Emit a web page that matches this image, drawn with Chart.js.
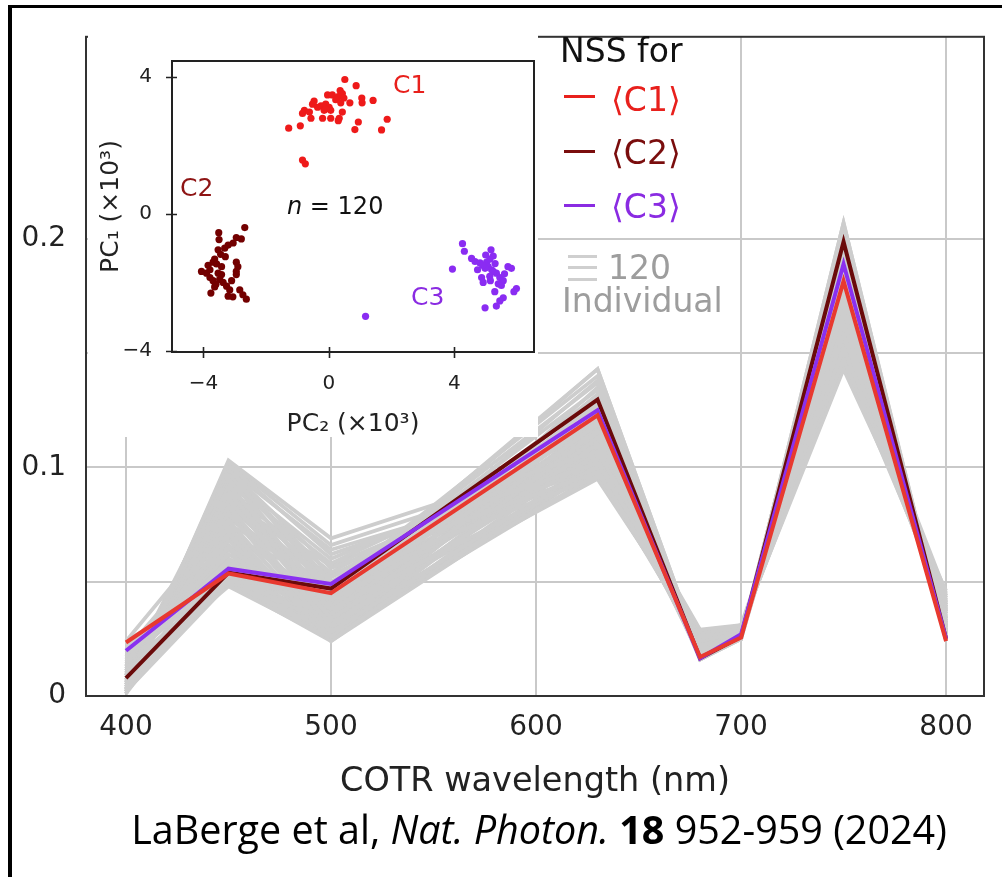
<!DOCTYPE html>
<html>
<head>
<meta charset="utf-8">
<script src="https://cdn.jsdelivr.net/npm/chart.js@4.4.1/dist/chart.umd.min.js"></script>
<style>
  html, body { margin: 0; padding: 0; background: #fff; }
  body { width: 1002px; height: 877px; position: relative; overflow: hidden;
         font-family: "DejaVu Sans", sans-serif; }
  #main { position: absolute; left: 0; top: 0; }
  #frame { position: absolute; left: 8px; top: 5px; right: 0; bottom: 0;
           border-left: 4px solid #000; border-top: 3px solid #000; pointer-events: none; }
  #insetWrap { position: absolute; left: 88px; top: 29px; width: 450px; height: 408px; background: #fff; }
  #inset { position: absolute; left: 0; top: 0; }
  .txt { position: absolute; white-space: nowrap; line-height: 1; }
  .lg { font-size: 33px; }
  .dash { position: absolute; height: 3px; width: 31px; }
  .bar { position: absolute; height: 3px; width: 29px; background: #cfcfcf; }
  .ann { font-size: 25px; }
  #cite { position: absolute; left: 77px; width: 924px; top: 810px; text-align: center;
          font-family: "Open Sans", sans-serif; font-size: 39.5px;
          line-height: 1; color: #000; }
</style>
</head>
<body>
<canvas id="main" width="1002" height="877"></canvas>

<div id="insetWrap">
  <canvas id="inset" width="450" height="408"></canvas>
</div>

<!-- cluster annotations inside the PCA inset -->
<div class="txt ann" style="left:393px; top:72px; color:#e8201c;">C1</div>
<div class="txt ann" style="left:180px; top:175px; color:#8e1414;">C2</div>
<div class="txt ann" style="left:287px; top:194px; color:#111; font-size:24px;"><i>n</i> = 120</div>
<div class="txt ann" style="left:411px; top:284px; color:#8a2be2;">C3</div>

<!-- legend -->
<div class="txt lg" style="left:560px; top:34px; color:#111;">NSS for</div>
<div class="dash" style="left:564px; top:95px; background:#e8201c;"></div>
<div class="txt lg" style="left:611px; top:83px; color:#e8201c;">⟨C1⟩</div>
<div class="dash" style="left:564px; top:150px; background:#7a0d0d;"></div>
<div class="txt lg" style="left:611px; top:136px; color:#7a0d0d;">⟨C2⟩</div>
<div class="dash" style="left:564px; top:204px; background:#8a2be2;"></div>
<div class="txt lg" style="left:611px; top:190px; color:#8a2be2;">⟨C3⟩</div>
<div class="bar" style="left:568px; top:255px;"></div>
<div class="bar" style="left:568px; top:266px;"></div>
<div class="bar" style="left:568px; top:278px;"></div>
<div class="txt lg" style="left:608px; top:251px; color:#9d9d9d;">120</div>
<div class="txt lg" style="left:562px; top:284px; color:#9d9d9d;">Individual</div>

<div id="cite">LaBerge et al, <i>Nat. Photon.</i> <b>18</b> 952-959 (2024)</div>

<div id="frame"></div>

<script>
// ---- spectra: normalized spectral signal (NSS) vs COTR wavelength ----
const wavelengths = [400, 450, 500, 630, 680, 700, 750, 800];

const meanC1 = [0.0234, 0.0536, 0.0450, 0.1228, 0.0170, 0.0256, 0.1815, 0.0240];
const meanC2 = [0.0078, 0.0540, 0.0470, 0.1297, 0.0165, 0.0260, 0.1987, 0.0250];
const meanC3 = [0.0198, 0.0557, 0.0490, 0.1250, 0.0165, 0.0270, 0.1890, 0.0250];

// individual shots (grey band)
const individual = [
  [0.001, 0.103, 0.069, 0.107, 0.029, 0.031, 0.143, 0.046],
  [0.003, 0.101, 0.062, 0.102, 0.028, 0.030, 0.147, 0.044],
  [0.002, 0.099, 0.056, 0.098, 0.027, 0.030, 0.152, 0.041],
  [0.005, 0.097, 0.050, 0.096, 0.026, 0.029, 0.158, 0.039],
  [0.004, 0.095, 0.046, 0.100, 0.025, 0.029, 0.163, 0.037],
  [0.007, 0.092, 0.042, 0.104, 0.024, 0.028, 0.168, 0.035],
  [0.006, 0.089, 0.038, 0.098, 0.023, 0.028, 0.172, 0.034],
  [0.009, 0.086, 0.034, 0.106, 0.022, 0.027, 0.176, 0.033],
  [0.008, 0.083, 0.031, 0.110, 0.021, 0.027, 0.180, 0.031],
  [0.011, 0.080, 0.028, 0.103, 0.020, 0.026, 0.184, 0.030],
  [0.010, 0.077, 0.026, 0.113, 0.019, 0.026, 0.188, 0.029],
  [0.013, 0.074, 0.024, 0.108, 0.018, 0.025, 0.192, 0.028],
  [0.012, 0.071, 0.027, 0.116, 0.018, 0.025, 0.196, 0.027],
  [0.015, 0.068, 0.030, 0.112, 0.017, 0.025, 0.200, 0.026],
  [0.014, 0.065, 0.033, 0.119, 0.017, 0.026, 0.204, 0.025],
  [0.017, 0.062, 0.036, 0.122, 0.016, 0.025, 0.207, 0.024],
  [0.016, 0.060, 0.039, 0.125, 0.016, 0.026, 0.199, 0.025],
  [0.019, 0.058, 0.042, 0.128, 0.016, 0.026, 0.194, 0.026],
  [0.018, 0.056, 0.044, 0.131, 0.017, 0.027, 0.189, 0.027],
  [0.021, 0.054, 0.046, 0.134, 0.017, 0.027, 0.185, 0.027],
  [0.020, 0.052, 0.047, 0.137, 0.018, 0.027, 0.181, 0.028],
  [0.022, 0.050, 0.048, 0.140, 0.018, 0.028, 0.177, 0.029],
  [0.023, 0.049, 0.045, 0.143, 0.019, 0.028, 0.173, 0.030],
  [0.024, 0.051, 0.043, 0.143, 0.019, 0.028, 0.169, 0.031],
  [0.012, 0.053, 0.040, 0.138, 0.020, 0.028, 0.165, 0.032],
  [0.008, 0.055, 0.037, 0.132, 0.020, 0.029, 0.161, 0.033],
  [0.004, 0.057, 0.034, 0.126, 0.021, 0.029, 0.157, 0.035],
  [0.002, 0.052, 0.031, 0.120, 0.022, 0.029, 0.153, 0.036],
  [0.006, 0.050, 0.028, 0.114, 0.023, 0.030, 0.149, 0.038],
  [0.010, 0.048, 0.025, 0.108, 0.024, 0.030, 0.146, 0.040],
  [0.014, 0.049, 0.026, 0.101, 0.025, 0.030, 0.150, 0.042],
  [0.018, 0.051, 0.029, 0.097, 0.026, 0.030, 0.155, 0.043],
  [0.022, 0.053, 0.032, 0.095, 0.027, 0.031, 0.160, 0.045],
  [0.016, 0.066, 0.035, 0.099, 0.024, 0.029, 0.166, 0.038],
  [0.020, 0.072, 0.041, 0.105, 0.021, 0.028, 0.171, 0.034],
  [0.024, 0.078, 0.044, 0.111, 0.019, 0.027, 0.178, 0.031],
  [0.013, 0.084, 0.040, 0.117, 0.018, 0.026, 0.186, 0.029],
  [0.005, 0.090, 0.036, 0.123, 0.017, 0.026, 0.193, 0.027],
  [0.003, 0.094, 0.032, 0.129, 0.016, 0.025, 0.202, 0.026],
  [0.001, 0.098, 0.029, 0.135, 0.016, 0.025, 0.207, 0.025],
  [0.002, 0.100, 0.047, 0.115, 0.026, 0.029, 0.170, 0.040],
  [0.004, 0.096, 0.044, 0.121, 0.024, 0.029, 0.175, 0.037],
  [0.006, 0.091, 0.039, 0.112, 0.022, 0.028, 0.183, 0.033],
  [0.003, 0.087, 0.035, 0.118, 0.021, 0.027, 0.190, 0.030],
  [0.007, 0.082, 0.030, 0.124, 0.020, 0.027, 0.197, 0.028],
  [0.009, 0.076, 0.027, 0.130, 0.019, 0.026, 0.204, 0.026],
  [0.011, 0.070, 0.025, 0.127, 0.018, 0.026, 0.195, 0.027],
  [0.014, 0.064, 0.028, 0.121, 0.017, 0.025, 0.186, 0.028],
  [0.017, 0.059, 0.032, 0.116, 0.017, 0.025, 0.178, 0.030],
  [0.020, 0.055, 0.036, 0.110, 0.018, 0.026, 0.171, 0.032],
  [0.002, 0.049, 0.024, 0.100, 0.022, 0.029, 0.161, 0.039],
  [0.005, 0.050, 0.026, 0.104, 0.021, 0.028, 0.166, 0.036],
  [0.008, 0.051, 0.030, 0.109, 0.020, 0.028, 0.174, 0.034],
  [0.011, 0.053, 0.034, 0.114, 0.019, 0.027, 0.181, 0.032],
  [0.015, 0.055, 0.038, 0.119, 0.018, 0.027, 0.188, 0.030],
  [0.019, 0.057, 0.041, 0.124, 0.017, 0.026, 0.196, 0.028],
  [0.001, 0.060, 0.027, 0.097, 0.025, 0.030, 0.154, 0.043],
  [0.003, 0.069, 0.029, 0.101, 0.024, 0.029, 0.159, 0.041],
  [0.006, 0.081, 0.033, 0.106, 0.023, 0.029, 0.164, 0.039],
  [0.009, 0.093, 0.037, 0.111, 0.022, 0.028, 0.169, 0.037],
  [0.002, 0.102, 0.066, 0.104, 0.028, 0.030, 0.150, 0.044],
  [0.004, 0.099, 0.064, 0.099, 0.027, 0.030, 0.156, 0.042],
  [0.003, 0.096, 0.060, 0.108, 0.026, 0.029, 0.162, 0.040],
  [0.005, 0.093, 0.058, 0.113, 0.025, 0.029, 0.167, 0.038],
  [0.007, 0.090, 0.054, 0.118, 0.024, 0.028, 0.172, 0.036],
  [0.006, 0.087, 0.052, 0.103, 0.023, 0.028, 0.177, 0.034],
  [0.008, 0.084, 0.049, 0.109, 0.022, 0.027, 0.182, 0.032],
  [0.010, 0.079, 0.046, 0.115, 0.021, 0.027, 0.187, 0.030],
  [0.012, 0.075, 0.052, 0.120, 0.020, 0.026, 0.192, 0.029],
  [0.009, 0.097, 0.053, 0.101, 0.026, 0.029, 0.155, 0.041],
  [0.011, 0.085, 0.057, 0.106, 0.025, 0.029, 0.160, 0.039],
  [0.013, 0.070, 0.050, 0.112, 0.023, 0.028, 0.165, 0.037]
];

const xTicks = [400, 500, 600, 700, 800];
const yTicks = [0, 0.05, 0.1, 0.15, 0.2];
const yTickLabels = ['0', '', '0.1', '', '0.2'];

// ---- PCA scatter (inset), units of 10^3 ----
const clusterC1 = [
  [0.51, 3.92], [0.87, 3.74], [0.36, 3.60], [0.43, 3.51], [0.30, 3.42], [0.48, 3.38],
  [-0.04, 3.47], [0.11, 3.47], [0.67, 3.24], [1.05, 3.38], [1.06, 3.24], [1.41, 3.31],
  [-0.47, 3.29], [-0.52, 3.20], [-0.25, 3.15], [-0.10, 3.20], [0.01, 3.11], [-0.15, 3.02],
  [0.06, 3.02], [-0.78, 3.02], [-0.84, 2.93], [-0.62, 2.97], [-0.57, 2.79], [-0.20, 2.79],
  [0.06, 2.79], [0.43, 2.97], [0.33, 2.79], [0.30, 2.72], [0.94, 2.68], [0.83, 2.46],
  [1.86, 2.76], [1.68, 2.45], [-1.28, 2.50], [-0.91, 2.57], [-0.84, 1.57], [-0.75, 1.46],
  [-0.36, 3.11], [-0.10, 3.06], [0.22, 3.33], [0.38, 3.24]
];
const clusterC2 = [
  [-2.68, -0.40], [-3.51, -0.55], [-2.95, -0.69], [-2.79, -0.73], [-3.21, -0.91], [-3.32, -1.00],
  [-3.53, -1.05], [-3.45, -1.18], [-3.64, -1.32], [-3.69, -1.41], [-2.95, -1.41], [-2.90, -1.54],
  [-2.95, -1.68], [-2.95, -1.77], [-4.06, -1.68], [-3.90, -1.73], [-3.79, -1.63], [-3.53, -1.73],
  [-3.42, -1.77], [-3.79, -1.86], [-3.69, -1.95], [-3.48, -1.91], [-3.37, -2.00], [-3.26, -2.11],
  [-3.64, -2.13], [-3.76, -2.31], [-3.16, -2.22], [-3.21, -2.40], [-3.06, -2.42], [-2.84, -2.22],
  [-2.74, -2.36], [-2.63, -2.49], [-3.58, -1.46], [-3.42, -1.54], [-3.30, -1.25], [-3.85, -1.50],
  [-3.05, -0.85], [-3.60, -2.05], [-3.10, -1.95], [-3.50, -0.75]
];
const clusterC3 = [
  [4.26, -0.87], [4.32, -1.09], [3.94, -1.61], [5.17, -1.05], [5.24, -1.23], [4.66, -1.39],
  [4.82, -1.43], [5.03, -1.41], [5.13, -1.32], [5.08, -1.54], [5.19, -1.63], [4.98, -1.59],
  [4.74, -1.63], [4.87, -1.86], [4.92, -2.00], [5.34, -1.73], [5.45, -1.86], [5.56, -1.95],
  [5.40, -2.04], [5.50, -2.09], [5.71, -1.54], [5.82, -1.59], [5.98, -2.18], [5.90, -2.27],
  [5.29, -2.27], [5.56, -2.45], [5.45, -2.54], [4.98, -2.74], [5.34, -2.69], [5.24, -1.68],
  [5.13, -1.82], [1.17, -2.99], [5.00, -1.20], [4.90, -1.50], [5.30, -1.45], [5.15, -1.95],
  [5.60, -1.75], [4.55, -1.30]
];
const pcTicks = [-4, 0, 4];
const pcTickLabels = ['\u22124', '0', '4'];

const FONT = '"DejaVu Sans", sans-serif';

// box around the plotting area
const frameBox = {
  id: 'frameBox',
  afterDatasetsDraw(chart, args, opts) {
    const { ctx, chartArea: a } = chart;
    ctx.save();
    ctx.strokeStyle = opts.color;
    ctx.lineWidth = opts.width;
    ctx.strokeRect(a.left, a.top, a.right - a.left, a.bottom - a.top);
    ctx.restore();
  }
};

// tick marks that straddle the axis lines
const crossTicks = {
  id: 'crossTicks',
  afterDraw(chart, args, opts) {
    if (!opts.enabled) return;
    const { ctx, chartArea: a, scales } = chart;
    ctx.save();
    ctx.strokeStyle = '#222';
    ctx.lineWidth = 1.6;
    ctx.beginPath();
    scales.x.ticks.forEach(t => {
      const px = Math.round(scales.x.getPixelForValue(t.value)) + 0.5;
      ctx.moveTo(px, a.bottom - 5); ctx.lineTo(px, a.bottom + 6);
    });
    scales.y.ticks.forEach(t => {
      const py = Math.round(scales.y.getPixelForValue(t.value)) + 0.5;
      ctx.moveTo(a.left - 6, py); ctx.lineTo(a.left + 5, py);
    });
    ctx.stroke();
    ctx.restore();
  }
};

const toPoints = vals => wavelengths.map((w, i) => ({ x: w, y: vals[i] }));

const meanSets = [
  { label: '\u27E8C1\u27E9', data: toPoints(meanC1), borderColor: '#e8392f', borderWidth: 4, order: 0 },
  { label: '\u27E8C3\u27E9', data: toPoints(meanC3), borderColor: '#8a30f0', borderWidth: 4, order: 1 },
  { label: '\u27E8C2\u27E9', data: toPoints(meanC2), borderColor: '#6a0a0a', borderWidth: 4, order: 2 }
];
const greySets = individual.map(v => ({ data: toPoints(v), borderColor: '#cdcdcd', borderWidth: 3.8, order: 3 }));

new Chart(document.getElementById('main'), {
  type: 'line',
  data: { datasets: meanSets.concat(greySets) },
  options: {
    responsive: false,
    animation: false,
    events: [],
    layout: { padding: { left: 0, top: 27, right: 18, bottom: 80 } },
    elements: { point: { radius: 0 }, line: { tension: 0, borderJoinStyle: 'miter' } },
    plugins: { legend: { display: false }, tooltip: { enabled: false },
               frameBox: { color: '#333', width: 2 }, crossTicks: { enabled: false } },
    scales: {
      x: {
        type: 'linear', min: 380.5, max: 818.5,
        afterBuildTicks: s => { s.ticks = xTicks.map(v => ({ value: v })); },
        afterFit: s => { s.height = 101; },
        grid: { color: '#c9c9c9', lineWidth: 2, drawTicks: false },
        border: { display: false },
        ticks: { callback: (v, i) => String(xTicks[i]), padding: 15, maxRotation: 0,
                 font: { family: FONT, size: 28 }, color: '#222' },
        title: { display: true, text: 'COTR wavelength (nm)', padding: { top: 0, bottom: -5 },
                 font: { family: FONT, size: 33.5 }, color: '#222' }
      },
      y: {
        type: 'linear', min: 0, max: 0.2884,
        afterBuildTicks: s => { s.ticks = yTicks.map(v => ({ value: v })); },
        afterFit: s => { s.width = 86; },
        grid: { color: '#c9c9c9', lineWidth: 2, drawTicks: false },
        border: { display: false },
        ticks: { callback: (v, i) => yTickLabels[i], padding: 20,
                 font: { family: FONT, size: 28 }, color: '#222' }
      }
    }
  },
  plugins: [frameBox, crossTicks]
});

const toXY = arr => arr.map(([x, y]) => ({ x, y }));

new Chart(document.getElementById('inset'), {
  type: 'scatter',
  data: {
    datasets: [
      { label: 'C1', data: toXY(clusterC1), backgroundColor: '#ee1a1a' },
      { label: 'C2', data: toXY(clusterC2), backgroundColor: '#730000' },
      { label: 'C3', data: toXY(clusterC3), backgroundColor: '#8a2cf2' }
    ]
  },
  options: {
    responsive: false,
    animation: false,
    events: [],
    layout: { padding: { left: 0, top: 10, right: 2, bottom: 0 } },
    elements: { point: { radius: 3.6, borderWidth: 0 } },
    plugins: { legend: { display: false }, tooltip: { enabled: false },
               frameBox: { color: '#222', width: 2 }, crossTicks: { enabled: true } },
    scales: {
      x: {
        type: 'linear', min: -5.0, max: 6.54,
        afterBuildTicks: s => { s.ticks = pcTicks.map(v => ({ value: v })); },
        afterFit: s => { s.height = 85; },
        grid: { display: false, drawTicks: false },
        border: { display: false },
        ticks: { callback: (v, i) => pcTickLabels[i], padding: 20, maxRotation: 0,
                 font: { family: FONT, size: 20 }, color: '#222' },
        title: { display: true, text: 'PC\u2082 (\u00D710\u00B3)', padding: { top: 0, bottom: 0.5 },
                 font: { family: FONT, size: 25, lineHeight: 1 }, color: '#222' }
      },
      y: {
        type: 'linear', min: -4.03, max: 4.46,
        afterBuildTicks: s => { s.ticks = pcTicks.map(v => ({ value: v })); },
        afterFit: s => { s.width = 84; },
        grid: { display: false, drawTicks: false },
        border: { display: false },
        ticks: { callback: (v, i) => pcTickLabels[i], padding: 20,
                 font: { family: FONT, size: 20 }, color: '#222' },
        title: { display: true, text: 'PC\u2081 (\u00D710\u00B3)', padding: { top: 10.5, bottom: 0 },
                 font: { family: FONT, size: 25, lineHeight: 1 }, color: '#222' }
      }
    }
  },
  plugins: [frameBox, crossTicks]
});
</script>
</body>
</html>
